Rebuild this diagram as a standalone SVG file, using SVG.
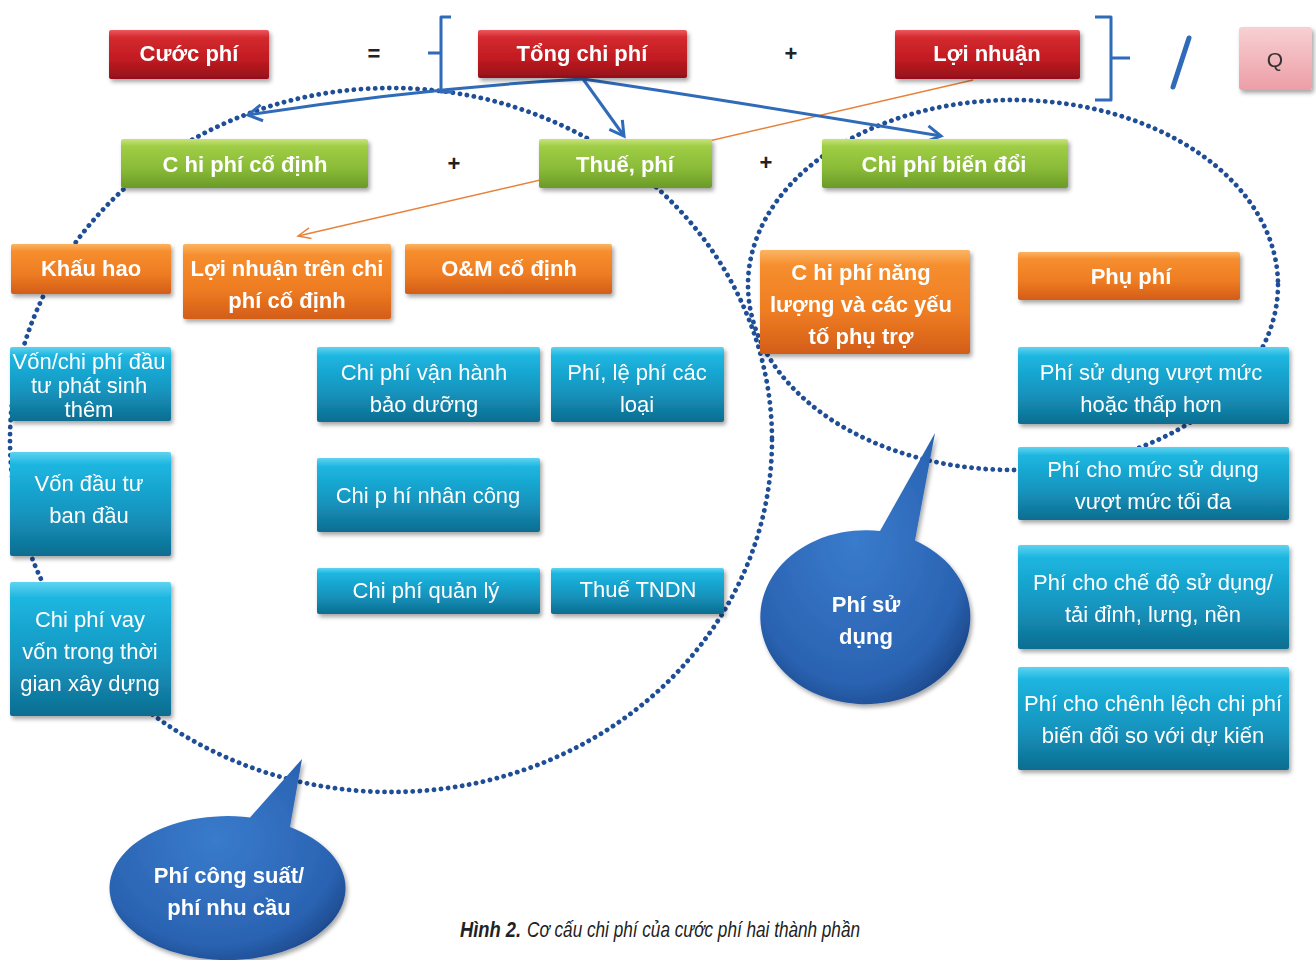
<svg xmlns="http://www.w3.org/2000/svg" width="1316" height="960" viewBox="0 0 1316 960">
<style>
.b{font-family:"Liberation Sans",Arial,sans-serif;font-weight:bold;font-size:22px;fill:#fff;text-anchor:middle}
.r{font-family:"Liberation Sans",Arial,sans-serif;font-size:22px;fill:#fff;text-anchor:middle}
.op{font-family:"Liberation Sans",Arial,sans-serif;font-weight:bold;font-size:22px;fill:#222;text-anchor:middle}
.cap{font-family:"Liberation Sans",Arial,sans-serif;font-size:22px;font-style:italic;fill:#222}
.dot{fill:none;stroke:#1f4e96;stroke-width:4.8;stroke-linecap:round;stroke-dasharray:0.1 7}
.arr{fill:none;stroke:#2f6bb8;stroke-width:3}
.brace{fill:none;stroke:#2f6bb8;stroke-width:3;stroke-linejoin:round}
.box{filter:url(#sh)}
</style>
<defs>
<filter id="sh" x="-10%" y="-20%" width="125%" height="150%">
<feDropShadow dx="2" dy="3" stdDeviation="2" flood-color="#000" flood-opacity="0.35"/>
</filter>
<linearGradient id="gRed" x1="0" y1="0" x2="0" y2="1">
<stop offset="0" stop-color="#ec5a5e"/><stop offset="0.15" stop-color="#d42a30"/><stop offset="0.6" stop-color="#c11b21"/><stop offset="1" stop-color="#93101a"/>
</linearGradient>
<linearGradient id="gGreen" x1="0" y1="0" x2="0" y2="1">
<stop offset="0" stop-color="#c9e47a"/><stop offset="0.15" stop-color="#9fcd45"/><stop offset="0.6" stop-color="#8abb37"/><stop offset="1" stop-color="#6a9a28"/>
</linearGradient>
<linearGradient id="gOrange" x1="0" y1="0" x2="0" y2="1">
<stop offset="0" stop-color="#fbb463"/><stop offset="0.15" stop-color="#f68e2e"/><stop offset="0.6" stop-color="#ee7c22"/><stop offset="1" stop-color="#d35d18"/>
</linearGradient>
<linearGradient id="gTeal" x1="0" y1="0" x2="0" y2="1">
<stop offset="0" stop-color="#5fd3f0"/><stop offset="0.12" stop-color="#1cb6e0"/><stop offset="0.6" stop-color="#1494be"/><stop offset="1" stop-color="#0f6d90"/>
</linearGradient>
<linearGradient id="gPink" x1="0" y1="0" x2="0" y2="1">
<stop offset="0" stop-color="#f8d0d3"/><stop offset="1" stop-color="#ec9ea6"/>
</linearGradient>
<radialGradient id="gBlue" cx="0.45" cy="0.4" r="0.65">
<stop offset="0" stop-color="#3a7bcc"/><stop offset="0.8" stop-color="#2a63b2"/><stop offset="1" stop-color="#1d4a8e"/>
</radialGradient>
<marker id="mBlue" viewBox="0 0 20 20" refX="17" refY="10" markerWidth="20" markerHeight="20" markerUnits="userSpaceOnUse" orient="auto">
<path d="M3,2 L17,10 L3,18" fill="none" stroke="#2f6bb8" stroke-width="3"/>
</marker>
<marker id="mOrange" viewBox="0 0 20 20" refX="18" refY="10" markerWidth="18" markerHeight="18" markerUnits="userSpaceOnUse" orient="auto">
<path d="M4,4 L18,10 L4,16" fill="none" stroke="#e8823a" stroke-width="1.6"/>
</marker>
</defs>
<rect width="1316" height="960" fill="#fff"/>

<g id="connectors">
<ellipse class="dot" cx="391" cy="440" rx="381" ry="352"/>
<ellipse class="dot" cx="1013" cy="285" rx="265" ry="185"/>
<path d="M973,80 L298,236" fill="none" stroke="#e8823a" stroke-width="1.6" marker-end="url(#mOrange)"/>
<path class="arr" d="M583,79 Q420,88 248,115" marker-end="url(#mBlue)"/>
<path class="arr" d="M583,79 L624,136" marker-end="url(#mBlue)"/>
<path class="arr" d="M583,79 Q700,96 941,136" marker-end="url(#mBlue)"/>
<path class="brace" d="M451,17 L441,17 L441,53 L428,53 M441,53 L441,92 L453,92"/>
<path class="brace" d="M1095,17 L1111,17 L1111,58 L1130,58 M1111,58 L1111,100 L1095,100"/>
<path d="M1189,38 L1173,87" stroke="#2f6bb8" stroke-width="5" stroke-linecap="round"/>
</g>

<text class="op" x="374" y="61">=</text>
<text class="op" x="791" y="61">+</text>
<text class="op" x="454" y="171">+</text>
<text class="op" x="766" y="170">+</text>

<g id="n-cuocphi" class="box"><rect x="109" y="30" width="160" height="49" rx="2" fill="url(#gRed)"/><text class="b" x="189" y="61">Cước phí</text></g>
<g id="n-tongchiphi" class="box"><rect x="478" y="30" width="209" height="48" rx="2" fill="url(#gRed)"/><text class="b" x="582" y="61">Tổng chi phí</text></g>
<g id="n-loinhuan" class="box"><rect x="895" y="30" width="185" height="49" rx="2" fill="url(#gRed)"/><text class="b" x="987" y="61">Lợi nhuận</text></g>
<g id="n-q" class="box"><rect x="1239" y="27" width="73" height="63" rx="3" fill="url(#gPink)"/><text x="1275" y="67" font-family="Liberation Sans, Arial, sans-serif" font-size="21" fill="#333" text-anchor="middle">Q</text></g>

<g id="n-codinh" class="box"><rect x="121" y="139" width="247" height="49" rx="2" fill="url(#gGreen)"/><text class="b" x="245" y="172">C hi phí cố định</text></g>
<g id="n-thuephi" class="box"><rect x="539" y="139" width="173" height="49" rx="2" fill="url(#gGreen)"/><text class="b" x="625" y="172">Thuế, phí</text></g>
<g id="n-biendoi" class="box"><rect x="822" y="139" width="246" height="49" rx="2" fill="url(#gGreen)"/><text class="b" x="944" y="172">Chi phí biến đổi</text></g>

<g id="n-khauhao" class="box"><rect x="11" y="244" width="160" height="50" rx="2" fill="url(#gOrange)"/><text class="b" x="91" y="276">Khấu hao</text></g>
<g id="n-loinhuancd" class="box"><rect x="183" y="244" width="208" height="75" rx="2" fill="url(#gOrange)"/><text class="b" x="287" y="276">Lợi nhuận trên chi</text><text class="b" x="287" y="308">phí cố định</text></g>
<g id="n-om" class="box"><rect x="405" y="244" width="207" height="50" rx="2" fill="url(#gOrange)"/><text class="b" x="509" y="276">O&amp;M cố định</text></g>
<g id="n-nangluong" class="box"><rect x="760" y="250" width="210" height="104" rx="2" fill="url(#gOrange)"/><text class="b" x="861" y="280">C hi phí năng</text><text class="b" x="861" y="312">lượng và các yếu</text><text class="b" x="861" y="344">tố phụ trợ</text></g>
<g id="n-phuphi" class="box"><rect x="1018" y="252" width="222" height="48" rx="2" fill="url(#gOrange)"/><text class="b" x="1131" y="284">Phụ phí</text></g>

<g id="n-vonphatsinh" class="box"><rect x="10" y="347" width="161" height="74" rx="2" fill="url(#gTeal)"/><text class="r" x="89" y="369">Vốn/chi phí đầu</text><text class="r" x="89" y="393">tư phát sinh</text><text class="r" x="89" y="417">thêm</text></g>
<g id="n-vanhanh" class="box"><rect x="317" y="347" width="223" height="75" rx="2" fill="url(#gTeal)"/><text class="r" x="424" y="380">Chi phí vận hành</text><text class="r" x="424" y="412">bảo dưỡng</text></g>
<g id="n-lephi" class="box"><rect x="551" y="347" width="173" height="75" rx="2" fill="url(#gTeal)"/><text class="r" x="637" y="380">Phí, lệ phí các</text><text class="r" x="637" y="412">loại</text></g>
<g id="n-vonbandau" class="box"><rect x="10" y="452" width="161" height="104" rx="2" fill="url(#gTeal)"/><text class="r" x="89" y="491">Vốn đầu tư</text><text class="r" x="89" y="523">ban đầu</text></g>
<g id="n-nhancong" class="box"><rect x="317" y="458" width="223" height="74" rx="2" fill="url(#gTeal)"/><text class="r" x="428" y="503">Chi p hí nhân công</text></g>
<g id="n-vayvon" class="box"><rect x="10" y="582" width="161" height="134" rx="2" fill="url(#gTeal)"/><text class="r" x="90" y="627">Chi phí vay</text><text class="r" x="90" y="659">vốn trong thời</text><text class="r" x="90" y="691">gian xây dựng</text></g>
<g id="n-quanly" class="box"><rect x="317" y="568" width="223" height="46" rx="2" fill="url(#gTeal)"/><text class="r" x="426" y="598">Chi phí quản lý</text></g>
<g id="n-tndn" class="box"><rect x="551" y="568" width="173" height="46" rx="2" fill="url(#gTeal)"/><text class="r" x="638" y="597">Thuế TNDN</text></g>
<g id="n-vuotmuc" class="box"><rect x="1018" y="347" width="271" height="77" rx="2" fill="url(#gTeal)"/><text class="r" x="1151" y="380">Phí sử dụng vượt mức</text><text class="r" x="1151" y="412">hoặc thấp hơn</text></g>
<g id="n-toida" class="box"><rect x="1018" y="447" width="271" height="73" rx="2" fill="url(#gTeal)"/><text class="r" x="1153" y="477">Phí cho mức sử dụng</text><text class="r" x="1153" y="509">vượt mức tối đa</text></g>
<g id="n-chedo" class="box"><rect x="1018" y="545" width="271" height="104" rx="2" fill="url(#gTeal)"/><text class="r" x="1153" y="590">Phí cho chế độ sử dụng/</text><text class="r" x="1153" y="622">tải đỉnh, lưng, nền</text></g>
<g id="n-chenhlech" class="box"><rect x="1018" y="667" width="271" height="103" rx="2" fill="url(#gTeal)"/><text class="r" x="1153" y="711">Phí cho chênh lệch chi phí</text><text class="r" x="1153" y="743">biến đổi so với dự kiến</text></g>

<g id="n-phisudung" class="box"><path d="M880,531 A105,87 0 1 0 915,540.5 L935,433 Z" fill="url(#gBlue)"/><text class="b" x="866" y="612">Phí sử</text><text class="b" x="866" y="644">dụng</text></g>
<g id="n-phicongsuat" class="box"><path d="M250,817.4 A118,72 0 1 0 290,827 L302,759 Z" fill="url(#gBlue)"/><text class="b" x="229" y="883">Phí công suất/</text><text class="b" x="229" y="915">phí nhu cầu</text></g>

<text class="cap" x="460" y="937" font-weight="bold" textLength="61" lengthAdjust="spacingAndGlyphs">Hình 2.</text>
<text class="cap" x="527" y="937" textLength="333" lengthAdjust="spacingAndGlyphs">Cơ cấu chi phí của cước phí hai thành phần</text>
</svg>
